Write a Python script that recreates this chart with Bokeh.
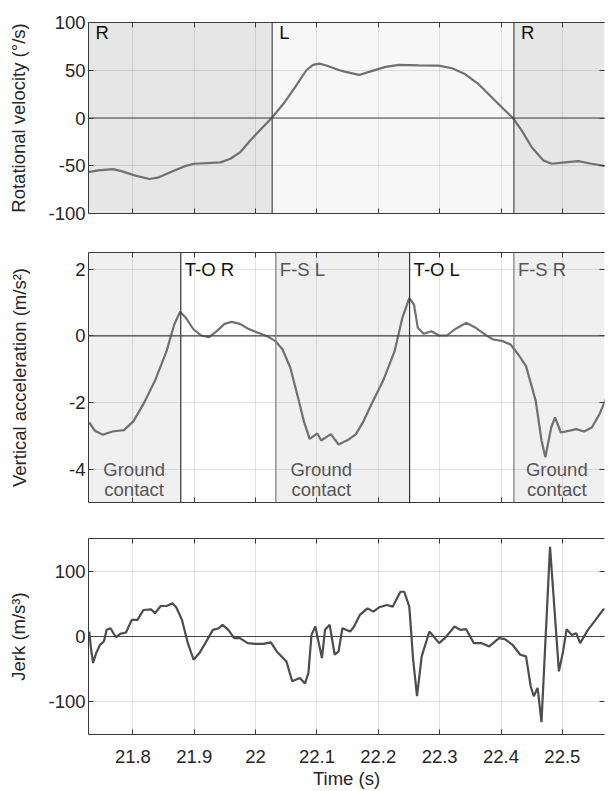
from bokeh.plotting import figure
from bokeh.models import (LinearAxis, FixedTicker, Span, BoxAnnotation, Range1d,
                          CustomLabelingPolicy)
from bokeh.layouts import column
from bokeh.embed import file_html
from bokeh.resources import INLINE
from bokeh.core.properties import value

# ---------------- data ----------------
rot_t = [21.7276, 21.7435, 21.7677, 21.7812, 21.8027, 21.8269, 21.8404, 21.8619,
         21.8835, 21.8996, 21.9212, 21.9427, 21.9589, 21.9750, 21.9912, 22.0073,
         22.0262, 22.0450, 22.0639, 22.0827, 22.0935, 22.1042, 22.1177, 22.1366,
         22.1469, 22.1686, 22.1903, 22.2119, 22.2336, 22.2661, 22.2985, 22.3202,
         22.3419, 22.3635, 22.3852, 22.4041, 22.4193, 22.4339, 22.4501, 22.4691,
         22.4826, 22.5043, 22.5259, 22.5476, 22.5720]
rot_v = [-56.6, -54.9, -53.5, -55.6, -60.1, -63.9, -62.5, -56.6,
         -50.7, -47.9, -47.2, -46.5, -42.7, -35.8, -23.6, -12.5,
         0.0, 14.6, 31.9, 50.0, 55.6, 56.9, 54.5, 50.0,
         48.3, 45.1, 49.3, 53.5, 55.6, 55.2, 54.9, 52.1,
         45.8, 35.4, 21.5, 9.4, 0.0, -13.2, -30.6, -44.4,
         -47.9, -46.5, -45.1, -47.9, -50.7]

acc_t = [21.7288, 21.7382, 21.7509, 21.7666, 21.7855, 21.8013, 21.8170, 21.8359,
         21.8548, 21.8674, 21.8769, 21.8863, 21.8989, 21.9115, 21.9241, 21.9367,
         21.9493, 21.9607, 21.9745, 21.9871, 21.9997, 22.0187, 22.0325, 22.0439,
         22.0565, 22.0691, 22.0785, 22.0880, 22.1006, 22.1069, 22.1226, 22.1352,
         22.1510, 22.1636, 22.1762, 22.1888, 22.2077, 22.2266, 22.2392, 22.2505,
         22.2581, 22.2644, 22.2739, 22.2865, 22.2991, 22.3117, 22.3243, 22.3432,
         22.3589, 22.3778, 22.3873, 22.4030, 22.4156, 22.4282, 22.4408, 22.4566,
         22.4660, 22.4723, 22.4818, 22.4881, 22.4975, 22.5101, 22.5227, 22.5353,
         22.5480, 22.5606, 22.5719]
acc_v = [-2.60, -2.85, -2.97, -2.87, -2.83, -2.55, -2.05, -1.35,
         -0.46, 0.34, 0.72, 0.54, 0.19, 0.01, -0.04, 0.14,
         0.36, 0.42, 0.36, 0.22, 0.12, -0.01, -0.16, -0.41,
         -0.95, -1.85, -2.55, -3.09, -2.93, -3.14, -2.95, -3.26,
         -3.12, -2.95, -2.55, -2.05, -1.35, -0.46, 0.54, 1.13,
         0.94, 0.24, 0.06, 0.14, 0.01, 0.01, 0.19, 0.39,
         0.24, -0.01, -0.11, -0.16, -0.26, -0.56, -0.91, -1.95,
         -3.14, -3.64, -2.75, -2.45, -2.90, -2.85, -2.80, -2.87,
         -2.75, -2.35, -1.85]

jerk_t = [21.7288, 21.7319, 21.7351, 21.7401, 21.7464, 21.7527, 21.7572, 21.7635,
          21.7698, 21.7729, 21.7792, 21.7887, 21.7981, 21.8076, 21.8170, 21.8296,
          21.8359, 21.8454, 21.8548, 21.8643, 21.8706, 21.8800, 21.8895, 21.8989,
          21.9084, 21.9210, 21.9304, 21.9399, 21.9462, 21.9556, 21.9651, 21.9745,
          21.9871, 21.9997, 22.0123, 22.0249, 22.0344, 22.0502, 22.0596, 22.0722,
          22.0804, 22.0861, 22.0911, 22.0974, 22.1018, 22.1081, 22.1132, 22.1207,
          22.1289, 22.1352, 22.1415, 22.1541, 22.1604, 22.1699, 22.1825, 22.1919,
          22.2014, 22.2140, 22.2234, 22.2360, 22.2423, 22.2505, 22.2568, 22.2631,
          22.2707, 22.2833, 22.2991, 22.3085, 22.3243, 22.3337, 22.3432, 22.3558,
          22.3684, 22.3810, 22.3967, 22.4062, 22.4188, 22.4314, 22.4408, 22.4484,
          22.4534, 22.4597, 22.4660, 22.4799, 22.4944, 22.5007, 22.5070, 22.5152,
          22.5227, 22.5290, 22.5417, 22.5542, 22.5668, 22.5719]
jerk_v = [7.6, -20.3, -40.6, -25.4, -12.7, -7.6, 10.2, 12.7,
          2.5, -1.0, 4.1, 6.1, 25.4, 25.4, 40.6, 41.6,
          35.5, 46.7, 46.7, 50.8, 44.7, 25.4, -10.2, -35.5,
          -25.4, -5.1, 10.2, 12.7, 17.8, 10.2, -2.5, -2.5,
          -10.2, -11.2, -11.2, -9.1, -22.8, -38.1, -68.5, -63.5,
          -72.1, -55.8, 2.5, 15.2, -5.1, -33.0, 10.2, 17.8,
          -27.9, -22.8, 12.7, 7.6, 15.2, 33.0, 43.1, 38.1,
          44.7, 48.2, 45.7, 68.5, 68.5, 45.7, -35.5, -91.4,
          -30.5, 7.6, -10.2, -2.5, 15.2, 10.2, 11.2, -10.2,
          -10.2, -15.2, -2.5, -4.1, -12.7, -27.9, -30.5, -76.1,
          -91.4, -78.7, -131.0, 137.1, -53.3, -25.4, 11.2, 2.5,
          5.1, -10.2, 10.2, 25.4, 41.6, 40.6]

x_ticks = [21.8, 21.9, 22.0, 22.1, 22.2, 22.3, 22.4, 22.5]
x_tick_labels = ["21.8", "21.9", "22", "22.1", "22.2", "22.3", "22.4", "22.5"]
rot_ticks = [-100, -50, 0, 50, 100]
rot_tick_labels = ["-100", "-50", "0", "50", "100"]
acc_ticks = [-4, -2, 0, 2]
acc_tick_labels = ["-4", "-2", "0", "2"]
jerk_ticks = [-100, 0, 100]
jerk_tick_labels = ["-100", "0", "100"]

x_start, x_end = 21.7276, 22.5687
rot_range = (-100, 100)
acc_range = (-5, 2.5)
jerk_range = (-150, 150)

# turning phases (rotational velocity sign changes)
turn_bounds = [x_start, 22.027, 22.421, x_end]
turn_labels = ["R", "L", "R"]
turn_label_y = 90
# gait events
gait_event_t = [21.878, 22.033, 22.251, 22.421]
gait_event_labels = ["T-O R", "F-S L", "T-O L", "F-S R"]
gait_label_y = 2
contact_label_t = [21.802, 22.107, 22.491]
contact_label_y1 = -4.0
contact_label_y2 = -4.6

# ---------------- style ----------------
FONT = "Liberation Sans"
FS = "18.5px"
AX = "#3a3a3a"
TXT = "#262626"
HIDE_LABELS = "for (const i of indices) { indices.unset(i) }\nreturn indices"


def hidden_policy():
    return CustomLabelingPolicy(code=HIDE_LABELS)


def make_fig(height, top, bottom, yr, yticks, ylabels, ylabel, show_x, lab_standoff):
    p = figure(width=609, height=height, x_range=Range1d(x_start, x_end),
               y_range=Range1d(*yr), output_backend="svg", toolbar_location=None,
               min_border_left=88, min_border_right=0, min_border_top=top,
               min_border_bottom=bottom)
    p.outline_line_color = None
    p.background_fill_color = "white"
    p.border_fill_color = "white"
    xa = p.xaxis[0]
    xa.ticker = FixedTicker(ticks=x_ticks)
    xa.major_label_overrides = dict(zip(x_ticks, x_tick_labels))
    ya = p.yaxis[0]
    ya.ticker = FixedTicker(ticks=yticks)
    ya.major_label_overrides = dict(zip(yticks, ylabels))
    ya.axis_label = ylabel
    ya.axis_label_standoff = lab_standoff
    for ax in (xa, ya):
        ax.major_tick_in = 5
        ax.major_tick_out = 0
        ax.minor_tick_line_color = None
        ax.axis_line_color = AX
        ax.major_tick_line_color = AX
        ax.major_label_text_font = FONT
        ax.major_label_text_font_size = FS
        ax.major_label_text_color = TXT
        ax.axis_label_text_font = FONT
        ax.axis_label_text_font_size = FS
        ax.axis_label_text_font_style = "normal"
        ax.axis_label_text_color = TXT
    ya.major_label_standoff = 3
    if show_x:
        xa.major_label_standoff = 15
        xa.axis_label = "Time (s)"
        xa.axis_label_standoff = 2
    else:
        xa.major_label_policy = hidden_policy()
        xa.major_label_text_font_size = "1px"
        xa.major_label_standoff = 0
    top_ax = LinearAxis(ticker=FixedTicker(ticks=x_ticks), major_label_policy=hidden_policy(),
                        major_label_text_font_size="1px",
                        major_label_standoff=0, major_tick_in=5, major_tick_out=0,
                        minor_tick_line_color=None, axis_line_color=AX,
                        major_tick_line_color=AX)
    p.add_layout(top_ax, "above")
    right_ax = LinearAxis(ticker=FixedTicker(ticks=yticks), major_label_policy=hidden_policy(),
                          major_label_text_font_size="1px",
                          major_label_standoff=0, major_tick_in=5, major_tick_out=0,
                          minor_tick_line_color=None, axis_line_color=None,
                          major_tick_line_color=AX)
    p.add_layout(right_ax, "right")
    p.xgrid.ticker = FixedTicker(ticks=x_ticks)
    p.ygrid.ticker = FixedTicker(ticks=yticks)
    for g in (p.xgrid[0], p.ygrid[0]):
        g.grid_line_color = "#262626"
        g.grid_line_alpha = 0.13
    p.add_layout(Span(location=0, dimension="width", line_color="#444444", line_width=1.2))
    return p


# ---- panel 1: rotational velocity ----
p1 = make_fig(232, 22, 19, rot_range, rot_ticks, rot_tick_labels,
              "Rotational velocity (°/s)", False, 16)
turn_fill = ["#e6e6e6", "#f7f7f7", "#e6e6e6"]
for i in range(3):
    p1.add_layout(BoxAnnotation(left=turn_bounds[i], right=turn_bounds[i + 1],
                                fill_color=turn_fill[i], fill_alpha=1.0,
                                line_color=None, level="image"))
for t in turn_bounds[1:3]:
    p1.add_layout(Span(location=t, dimension="height", line_color="#4a4a4a", line_width=1.2))
p1.text(x=turn_bounds[:3], y=[turn_label_y] * 3, text=turn_labels, x_offset=7,
        text_font=value(FONT), text_font_size=FS, text_color="#111111",
        text_baseline="middle", text_align="left")
p1.line(rot_t, rot_v, line_color="#707070", line_width=2.2)

# ---- panel 2: vertical acceleration ----
p2 = make_fig(288, 20, 18, acc_range, acc_ticks, acc_tick_labels,
              "Vertical acceleration (m/s²)", False, 36)
contact_bounds = [x_start, gait_event_t[0], gait_event_t[1], gait_event_t[2],
                  gait_event_t[3], x_end]
for i in (0, 2, 4):
    p2.add_layout(BoxAnnotation(left=contact_bounds[i], right=contact_bounds[i + 1],
                                fill_color="#f0f0f0", fill_alpha=1.0,
                                line_color=None, level="image"))
event_line_cols = ["#333333", "#7a7a7a", "#333333", "#7a7a7a"]
event_text_cols = ["#111111", "#555555", "#111111", "#555555"]
for t, c in zip(gait_event_t, event_line_cols):
    p2.add_layout(Span(location=t, dimension="height", line_color=c, line_width=1.2))
p2.text(x=gait_event_t, y=[gait_label_y] * 4, text=gait_event_labels, x_offset=4,
        text_font=value(FONT), text_font_size=FS, text_color=event_text_cols,
        text_baseline="middle", text_align="left")
p2.text(x=contact_label_t, y=[contact_label_y1] * 3, text=["Ground"] * 3,
        text_font=value(FONT), text_font_size=FS, text_color="#555555",
        text_baseline="middle", text_align="center")
p2.text(x=contact_label_t, y=[contact_label_y2] * 3, text=["contact"] * 3,
        text_font=value(FONT), text_font_size=FS, text_color="#555555",
        text_baseline="middle", text_align="center")
p2.line(acc_t, acc_v, line_color="#707070", line_width=2.2)

# ---- panel 3: jerk ----
p3 = make_fig(271, 18, 55, jerk_range, jerk_ticks, jerk_tick_labels,
              "Jerk (m/s³)", True, 16)
p3.line(jerk_t, jerk_v, line_color="#4d4d4d", line_width=2.2)

layout = column(p1, p2, p3, spacing=0)
open("out.html", "w").write(file_html(layout, INLINE))
